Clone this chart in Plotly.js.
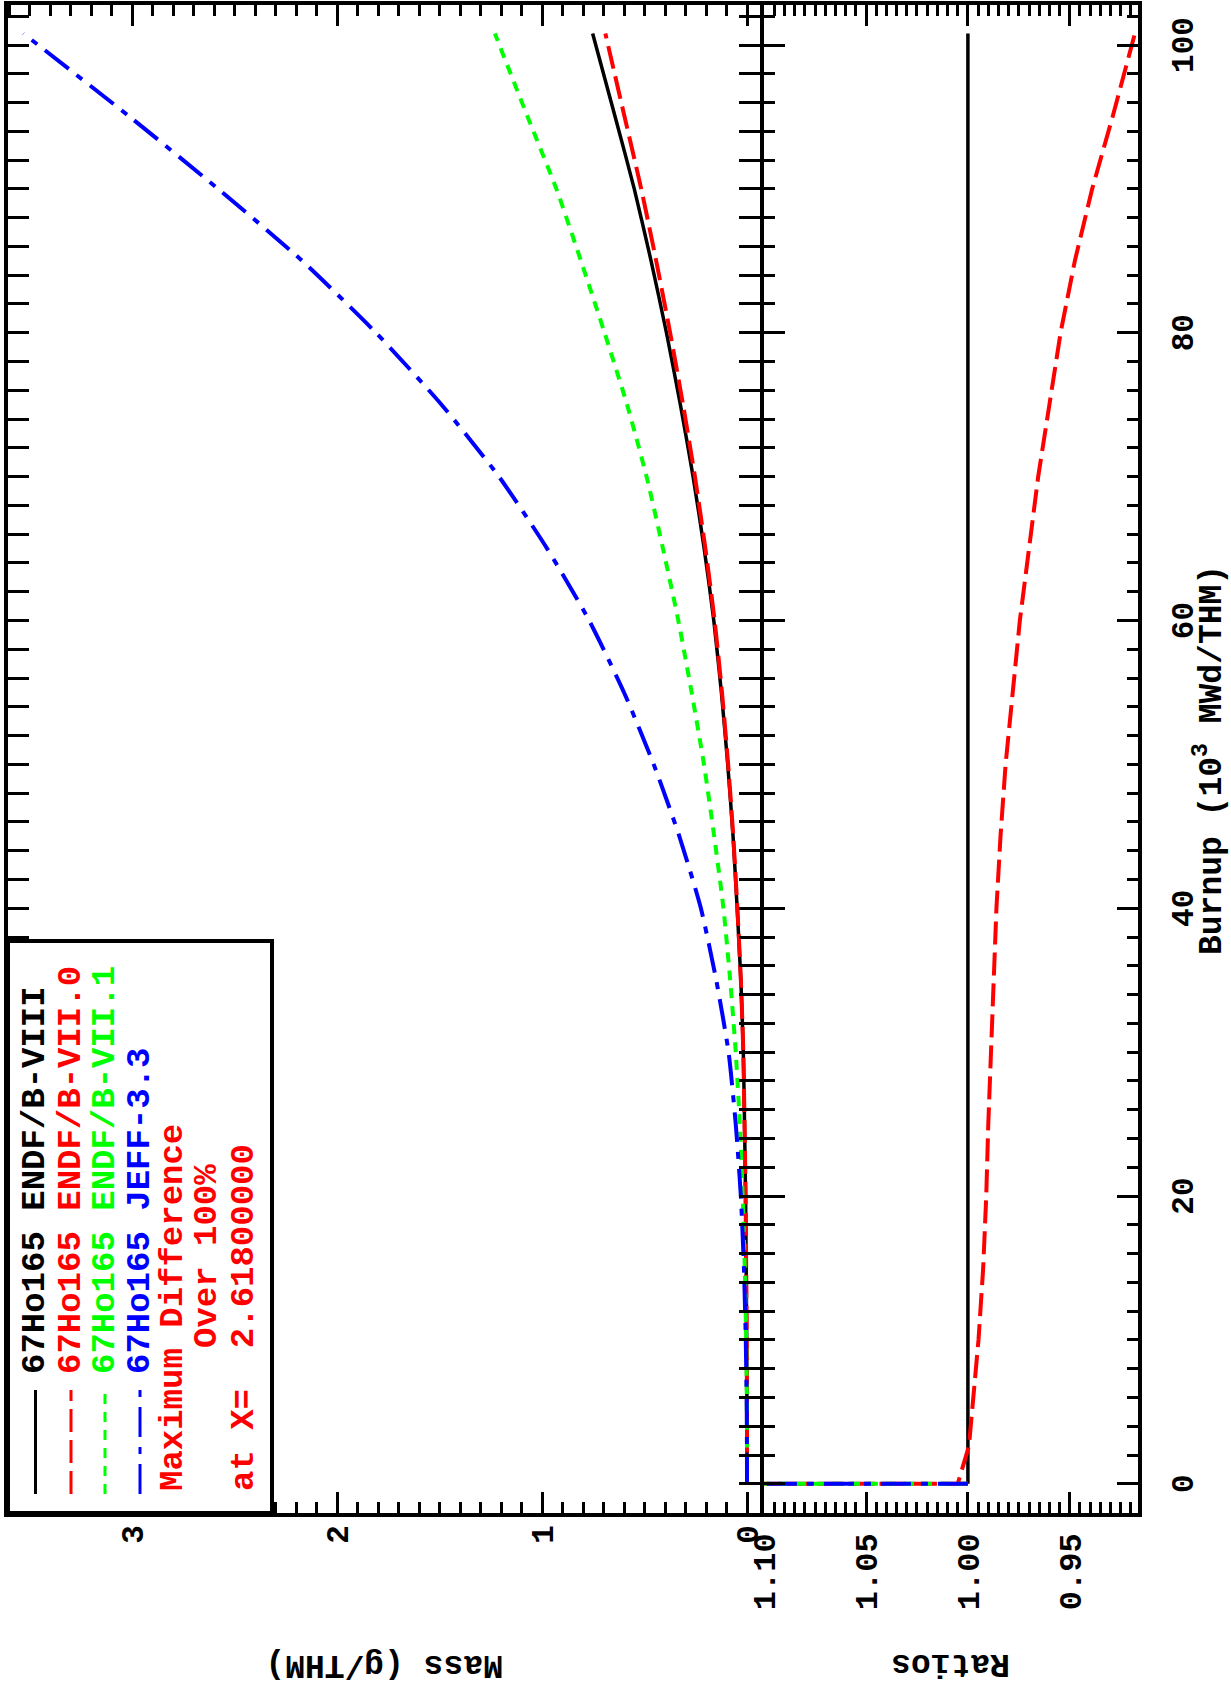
<!DOCTYPE html>
<html><head><meta charset="utf-8">
<script src="https://cdn.plot.ly/plotly-3.0.1.min.js"></script>
<style>
html,body{margin:0;padding:0;width:1231px;height:1686px;overflow:hidden;background:#fff}
#wrap{position:absolute;left:0;top:0;width:1686px;height:1231px;transform-origin:0 0;transform:translate(0px,1686px) rotate(-90deg)}
#chart{width:1686px;height:1231px}
</style></head><body>
<div id="wrap"><div id="chart"></div></div>
<script>
// ---- data ----
const seriesNames = ['67Ho165 ENDF/B-VIII', '67Ho165 ENDF/B-VII.0', '67Ho165 ENDF/B-VII.1', '67Ho165 JEFF-3.3'];
const seriesColors = ['#000000', '#ff0000', '#00ff00', '#0000ff'];
const seriesDash = ['solid', '23px,8px', '10px,8px', '30px,10px,7px,10px'];
const seriesWidth = [3.5, 4, 4, 4];

const burnup = [0, 2.618, 5, 10, 15, 20, 25, 30, 35, 40, 45, 50, 55, 60, 65, 70, 75, 80, 85, 90, 95, 100.8];
const massENDF8  = [0, 0, 0.0003, 0.0015, 0.004, 0.007, 0.012, 0.018, 0.030, 0.048, 0.068, 0.094, 0.125, 0.162, 0.209, 0.263, 0.325, 0.393, 0.468, 0.550, 0.643, 0.753];
const massENDF70 = [0, 0, 0.0003, 0.0015, 0.004, 0.007, 0.012, 0.018, 0.030, 0.047, 0.067, 0.092, 0.122, 0.158, 0.203, 0.254, 0.312, 0.375, 0.443, 0.516, 0.597, 0.691];
const massENDF71 = [0, 0.0001, 0.0005, 0.004, 0.011, 0.021, 0.035, 0.055, 0.082, 0.115, 0.160, 0.210, 0.270, 0.335, 0.410, 0.490, 0.585, 0.695, 0.810, 0.930, 1.070, 1.230];
const massJEFF   = [0, 0.0003, 0.001, 0.006, 0.015, 0.030, 0.055, 0.090, 0.150, 0.225, 0.330, 0.455, 0.600, 0.770, 0.975, 1.210, 1.490, 1.810, 2.170, 2.580, 3.010, 3.530];

const ratioBurnupENDF8 = [0, 100.8];
const ratioENDF8 = [1.0, 1.0];
const ratioBurnupENDF70 = [0, 0, 0, 2.618, 5, 7.5, 10, 15, 20, 25, 30, 35, 40, 45, 50, 55, 60, 65, 70, 75, 80, 85, 90, 95, 100.8];
const ratioENDF70 = [1.0, 1.6, 1.005, 0.9995, 0.998, 0.9963, 0.9948, 0.9925, 0.991, 0.990, 0.9888, 0.9875, 0.986, 0.984, 0.9815, 0.978, 0.9745, 0.970, 0.9655, 0.960, 0.9545, 0.9475, 0.939, 0.929, 0.918];
const ratioBurnupOffScale = [0, 0.05];
const ratioENDF71 = [1.0, 1.6];
const ratioJEFF = [1.0, 1.6];

const noteLines = ['Maximum Difference', 'Over 100%', 'at X=\u00a0\u00a02.61800000'];
const xTitle = 'Burnup (10<sup>3</sup> MWd/THM)';
const yTitleMass = 'Mass (g/THM)';
const yTitleRatio = 'Ratios';

// ---- geometry helpers (local, unrotated chart 1686 x 1231) ----
const W = 1686, H = 1231;
const M = {l: 173, r: 5, t: 8, b: 93};
const PW = W - M.l - M.r, PH = H - M.t - M.b;
const px = v => (v - M.l) / PW;          // local x pixel -> paper
const py = v => (H - M.b - v) / PH;      // local y pixel -> paper

const FONT = 'Liberation Mono, Courier New, monospace';
const massSeries = [massENDF8, massENDF70, massENDF71, massJEFF];
const ratioSeries = [[ratioBurnupENDF8, ratioENDF8], [ratioBurnupENDF70, ratioENDF70], [ratioBurnupOffScale, ratioENDF71], [ratioBurnupOffScale, ratioJEFF]];

const traces = [];
massSeries.forEach((m, i) => {
  traces.push({x: burnup, y: m, xaxis: 'x', yaxis: 'y', mode: 'lines', name: seriesNames[i],
    line: {color: seriesColors[i], width: seriesWidth[i], dash: seriesDash[i], shape: 'spline', smoothing: 0.6}, hoverinfo: 'skip'});
});
ratioSeries.forEach((s, i) => {
  traces.push({x: s[0], y: s[1], xaxis: 'x', yaxis: 'y2', mode: 'lines', name: seriesNames[i] + ' ratio',
    line: {color: seriesColors[i], width: seriesWidth[i], dash: seriesDash[i]}, hoverinfo: 'skip'});
});

const axisCommon = {
  showline: true, linewidth: 4, linecolor: '#000', mirror: 'allticks',
  ticks: 'inside', tickwidth: 3, tickcolor: '#000', ticklen: 21,
  showgrid: false, zeroline: false,
  tickfont: {family: FONT, size: 31, color: '#000', weight: 'bold'}
};

const layout = {
  width: W, height: H, margin: M,
  paper_bgcolor: '#fff', plot_bgcolor: '#fff', showlegend: false,
  xaxis: Object.assign({}, axisCommon, {
    anchor: 'y2', range: [-2.03, 102.78], tick0: 0, dtick: 20, ticklabelstandoff: 14,
    minor: {tick0: 0, dtick: 2, ticks: 'inside', ticklen: 11, tickwidth: 3, tickcolor: '#000', showgrid: false}
  }),
  yaxis: Object.assign({}, axisCommon, {
    anchor: 'x', domain: [py(760), 1], range: [-0.0634, 3.605], tick0: 0, dtick: 1, ticklabelstandoff: 2,
    minor: {tick0: 0, dtick: 0.1, ticks: 'inside', ticklen: 11, tickwidth: 3, tickcolor: '#000', showgrid: false}
  }),
  yaxis2: Object.assign({}, axisCommon, {
    anchor: 'x', domain: [0, py(764)], range: [0.9165, 1.1001], tick0: 0, dtick: 0.05, tickformat: '.2f', ticklabelstandoff: 10,
    tickfont: {family: FONT, size: 32, color: '#000', weight: 'bold'},
    minor: {tick0: 0, dtick: 0.005, ticks: 'inside', ticklen: 11, tickwidth: 3, tickcolor: '#000', showgrid: false}
  }),
  shapes: [],
  annotations: []
};

const titleFont = {family: FONT, size: 33, color: '#000', weight: 'bold'};
layout.annotations.push({xref: 'paper', yref: 'paper', x: px(22), y: (py(760) + 1) / 2, text: yTitleMass, textangle: -90,
  showarrow: false, xanchor: 'center', yanchor: 'middle', font: titleFont});
layout.annotations.push({xref: 'paper', yref: 'paper', x: px(22), y: py(764) / 2, text: yTitleRatio, textangle: -90,
  showarrow: false, xanchor: 'center', yanchor: 'middle', font: titleFont});
layout.annotations.push({xref: 'paper', yref: 'paper', x: px(926), y: py(1209), text: xTitle,
  showarrow: false, xanchor: 'center', yanchor: 'middle', font: titleFont});

// legend box
layout.shapes.push({type: 'rect', xref: 'paper', yref: 'paper', x0: 0, x1: px(745), y0: py(272), y1: 1,
  line: {color: '#000', width: 4}, fillcolor: '#fff', layer: 'above'});
const rowY = [35.5, 71, 105, 140, 173, 207.5, 244];
const legFont = c => ({family: FONT, size: 34, color: c, weight: 'bold'});
seriesNames.forEach((n, i) => {
  layout.shapes.push({type: 'line', xref: 'paper', yref: 'paper', x0: px(192), x1: px(296), y0: py(rowY[i]), y1: py(rowY[i]),
    line: {color: seriesColors[i], width: 3, dash: seriesDash[i]}, layer: 'above'});
  layout.annotations.push({xref: 'paper', yref: 'paper', x: px(310), y: py(rowY[i]), text: n, showarrow: false,
    xanchor: 'left', yanchor: 'middle', font: legFont(seriesColors[i])});
});
const noteX = [193, 336, 193];
noteLines.forEach((t, k) => {
  layout.annotations.push({xref: 'paper', yref: 'paper', x: px(noteX[k]), y: py(rowY[4 + k]), text: t, showarrow: false,
    xanchor: 'left', yanchor: 'middle', font: legFont('#ff0000')});
});

Plotly.newPlot('chart', traces, layout, {staticPlot: true, displayModeBar: false});
</script>
</body></html>
